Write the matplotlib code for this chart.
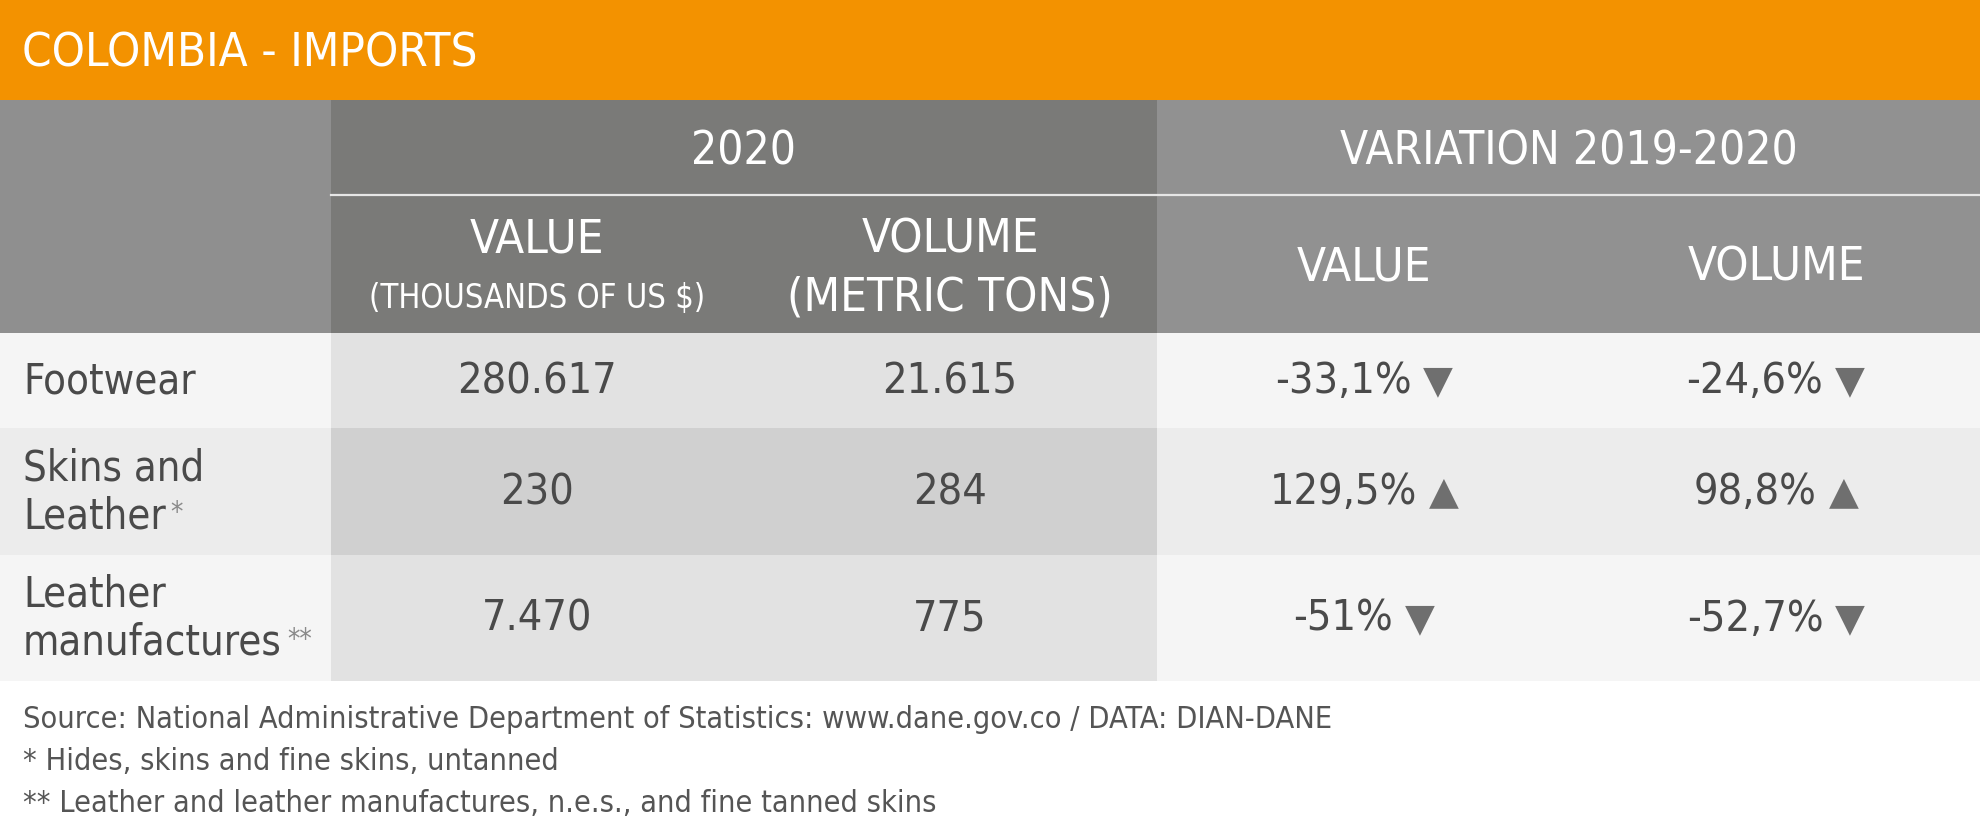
import matplotlib.pyplot as plt
from matplotlib.patches import Rectangle

# Table contents
TITLE = 'COLOMBIA - IMPORTS'
GROUPS = ['2020', 'VARIATION 2019-2020']
categories = ['Footwear', 'Skins and\nLeather', 'Leather\nmanufactures']
notes = ['', '*', '**']
value_2020 = ['280.617', '230', '7.470']
volume_2020 = ['21.615', '284', '775']
var_value = ['-33,1%', '129,5%', '-51%']
var_volume = ['-24,6%', '98,8%', '-52,7%']
footnotes = [
    'Source: National Administrative Department of Statistics: www.dane.gov.co / DATA: DIAN-DANE',
    '* Hides, skins and fine skins, untanned',
    '** Leather and leather manufactures, n.e.s., and fine tanned skins',
]

FONT = dict(family='DejaVu Sans', fontstretch='condensed')
TXT = '#4a4a4a'
ORANGE = '#f39200'

W, H = 1980, 828
fig = plt.figure(figsize=(W / 100, H / 100), dpi=100)
ax = fig.add_axes([0, 0, 1, 1])
ax.set_xlim(0, W)
ax.set_ylim(H, 0)
ax.axis('off')

# layout in pixels
left_w = 331
group_x = [331, 1157, W]
col_c = [537, 950, 1364, 1776]
head_top, head_bot = 101, 334
row_edges = [334, 429, 556, 682]


def box(x0, y0, x1, y1, color):
    ax.add_patch(Rectangle((x0, y0), x1 - x0, y1 - y0, facecolor=color,
                           edgecolor='none'))


# title bar
box(0, 0, W, head_top, ORANGE)
ax.text(22, 54, TITLE, color='white', fontsize=34, va='center', ha='left',
        **FONT)

# header blocks
box(0, head_top, left_w, head_bot, '#8f8f8f')
box(group_x[0], head_top, group_x[1], head_bot, '#7a7a78')
box(group_x[1], head_top, group_x[2], head_bot, '#919191')
ax.plot([group_x[0], W], [196, 196], color='#e6e6e6', lw=1.6)

for i, g in enumerate(GROUPS):
    ax.text((group_x[i] + group_x[i + 1]) / 2, 152, g, color='white',
            fontsize=33, ha='center', va='center', **FONT)

ax.text(col_c[0], 240, 'VALUE', color='white', fontsize=34,
        ha='center', va='center', **FONT)
ax.text(col_c[0], 299, '(THOUSANDS OF US $)', color='white', fontsize=23.5,
        ha='center', va='center', **FONT)
ax.text(col_c[1], 240, 'VOLUME', color='white', fontsize=34,
        ha='center', va='center', **FONT)
ax.text(col_c[1], 298, '(METRIC TONS)', color='white', fontsize=34,
        ha='center', va='center', **FONT)
ax.text(col_c[2], 268, 'VALUE', color='white', fontsize=34,
        ha='center', va='center', **FONT)
ax.text(col_c[3], 268, 'VOLUME', color='white', fontsize=34,
        ha='center', va='center', **FONT)

# body rows
light = ['#f5f5f5', '#ececec', '#f5f5f5']
mid = ['#e2e2e2', '#d0d0d0', '#e2e2e2']
arrow_w, gap = 30, 12

for r in range(len(categories)):
    y0, y1 = row_edges[r], row_edges[r + 1]
    yc = (y0 + y1) / 2
    box(0, y0, left_w, y1, light[r])
    box(group_x[0], y0, group_x[1], y1, mid[r])
    box(group_x[1], y0, group_x[2], y1, light[r])

    lines = categories[r].split('\n')
    step = 48
    start = yc - step * (len(lines) - 1) / 2
    for k, line in enumerate(lines):
        t = ax.text(23, start + k * step, line, color=TXT, fontsize=30,
                    ha='left', va='center', **FONT)
    if notes[r]:
        ax.annotate(notes[r], xy=(1, 1), xycoords=t, xytext=(5, -4),
                    textcoords='offset pixels', color='#8a8a8a',
                    fontsize=20, ha='left', va='top', **FONT)

    ax.text(col_c[0], yc, value_2020[r], color=TXT, fontsize=31,
            ha='center', va='center', **FONT)
    ax.text(col_c[1], yc, volume_2020[r], color=TXT, fontsize=31,
            ha='center', va='center', **FONT)

    for c, val in zip(col_c[2:], [var_value[r], var_volume[r]]):
        t = ax.text(c - (arrow_w + gap) / 2, yc, val, color=TXT,
                    fontsize=31, ha='center', va='center', **FONT)
        arrow = '▼' if val.startswith('-') else '▲'
        ax.annotate(arrow, xy=(1, 0.5), xycoords=t, xytext=(gap, 0),
                    textcoords='offset pixels', color='#6f6f6f',
                    fontsize=28, family='DejaVu Sans', ha='left',
                    va='center')

# footnotes
for k, note in enumerate(footnotes):
    ax.text(23, 720 + k * 42, note, color='#555555', fontsize=22,
            ha='left', va='center', **FONT)

fig.savefig('out.png', dpi=100, facecolor='white')
